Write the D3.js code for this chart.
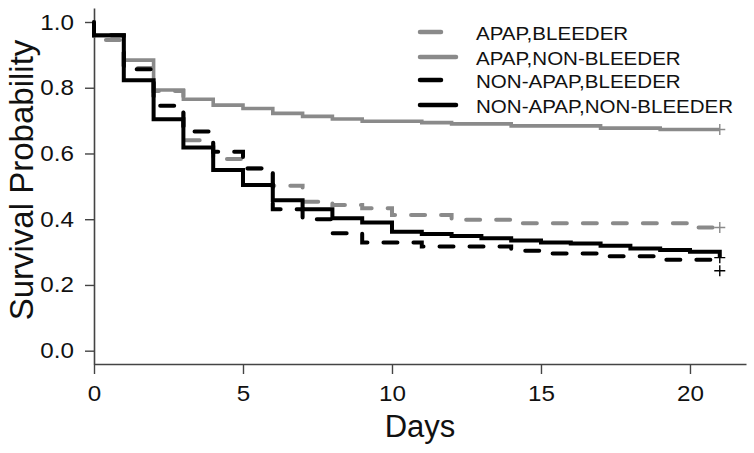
<!DOCTYPE html>
<html>
<head>
<meta charset="utf-8">
<script src="https://cdn.jsdelivr.net/npm/d3@7/dist/d3.min.js"></script>
<style>
  html, body { margin: 0; padding: 0; background: #fff; }
  svg { display: block; font-family: "Liberation Sans", Arial, sans-serif; }
</style>
</head>
<body>
<svg id="chart" width="754" height="453"></svg>
<script>
// ---- data ----
const seriesNames = ["APAP,BLEEDER", "APAP,NON-BLEEDER", "NON-APAP,BLEEDER", "NON-APAP,NON-BLEEDER"];

const daysApapBleeder = [0, 1, 2, 3, 4, 5, 6, 7, 8, 9, 10, 12, 14, 20, 21];
const survApapBleeder = [0.945, 0.86, 0.79, 0.64, 0.583, 0.555, 0.502, 0.453, 0.443, 0.433, 0.413, 0.398, 0.388, 0.375, 0.375];

const daysApapNonBleeder = [0, 1, 2, 3, 4, 5, 6, 7, 8, 9, 11, 12, 14, 17, 19, 21];
const survApapNonBleeder = [0.958, 0.884, 0.793, 0.765, 0.747, 0.737, 0.722, 0.713, 0.705, 0.698, 0.694, 0.69, 0.684, 0.677, 0.673, 0.673];

const daysNonApapBleeder = [0, 1, 2, 3, 4, 5, 6, 7, 8, 9, 11, 14, 15, 17, 19, 21];
const survNonApapBleeder = [0.96, 0.856, 0.745, 0.667, 0.605, 0.554, 0.43, 0.40, 0.357, 0.329, 0.317, 0.304, 0.296, 0.287, 0.277, 0.277];

const daysNonApapNonBleeder = [0, 1, 2, 3, 4, 5, 6, 7, 8, 9, 10, 11, 12, 13, 14, 15, 16, 17, 18, 19, 20, 21];
const survNonApapNonBleeder = [0.96, 0.823, 0.704, 0.618, 0.55, 0.504, 0.458, 0.43, 0.403, 0.39, 0.362, 0.355, 0.349, 0.342, 0.335, 0.329, 0.326, 0.319, 0.311, 0.306, 0.301, 0.283];

// censoring marks (day, survival) per series
const censorApapBleeder = [[21, 0.375]];
const censorApapNonBleeder = [[21, 0.673]];
const censorNonApapBleeder = [[21, 0.243]];
const censorNonApapNonBleeder = [[21, 0.283]];

const xTicks = [0, 5, 10, 15, 20];
const yTicks = [0.0, 0.2, 0.4, 0.6, 0.8, 1.0];
const xLabel = "Days";
const yLabel = "Survival Probability";

// ---- styles ----
const styles = [
  { color: "#8a8a8a", dash: "14,16", width: 4 },
  { color: "#8a8a8a", dash: null, width: 3.6 },
  { color: "#000000", dash: "14,16", width: 4 },
  { color: "#000000", dash: null, width: 4 }
];

const series = [
  { name: seriesNames[0], days: daysApapBleeder, surv: survApapBleeder, censor: censorApapBleeder },
  { name: seriesNames[1], days: daysApapNonBleeder, surv: survApapNonBleeder, censor: censorApapNonBleeder },
  { name: seriesNames[2], days: daysNonApapBleeder, surv: survNonApapBleeder, censor: censorNonApapBleeder },
  { name: seriesNames[3], days: daysNonApapNonBleeder, surv: survNonApapNonBleeder, censor: censorNonApapNonBleeder }
];

function stretch(sel, f) {
  sel.each(function () {
    const w = this.getComputedTextLength();
    d3.select(this).attr("textLength", w * f).attr("lengthAdjust", "spacingAndGlyphs");
  });
}

const svg = d3.select("#chart");
const x = d3.scaleLinear().domain([0, 21.88]).range([94, 746]);
const y = d3.scaleLinear().domain([-0.0405, 1.0426]).range([364, 8]);

// axes
const axisColor = "#444";
const yAxis = svg.append("g").attr("transform", `translate(${x(0)},0)`)
  .call(d3.axisLeft(y).tickValues(yTicks).tickFormat(d3.format(".1f")).tickSize(9).tickSizeOuter(0).tickPadding(11));
const xAxis = svg.append("g").attr("transform", `translate(0,${y.range()[0]})`)
  .call(d3.axisBottom(x).tickValues(xTicks).tickFormat(d3.format("d")).tickSize(10).tickSizeOuter(0).tickPadding(11));
[xAxis, yAxis].forEach(g => {
  g.select(".domain").attr("stroke", axisColor).attr("stroke-width", 1.6);
  g.selectAll(".tick line").attr("stroke", axisColor).attr("stroke-width", 1.4);
  g.selectAll(".tick text").attr("fill", "#111").style("font-size", "22px").style("font-family", "'Liberation Sans', Arial, sans-serif");
  stretch(g.selectAll(".tick text"), 1.1);
});

// axis titles
svg.append("text").attr("x", (x.range()[0] + x.range()[1]) / 2).attr("y", 437)
  .attr("text-anchor", "middle").style("font-size", "31px").attr("fill", "#111").text(xLabel);
svg.append("text").attr("transform", `translate(33,${180}) rotate(-90)`)
  .attr("text-anchor", "middle").style("font-size", "33px").attr("fill", "#111").text(yLabel);

// curves
const line = d3.line().x(d => x(d[0])).y(d => y(d[1])).curve(d3.curveStepAfter);
const plot = svg.append("g");
[1, 0, 3, 2].forEach(i => {
  const s = series[i], st = styles[i];
  const pts = [[0, 1.0]].concat(s.days.map((d, k) => [d, s.surv[k]]));
  plot.append("path").attr("d", line(pts))
    .attr("fill", "none").attr("stroke", st.color).attr("stroke-width", st.width)
    .attr("stroke-dasharray", st.dash).attr("stroke-linecap", st.dash ? "round" : "butt")
    .attr("stroke-linejoin", "miter");
});
// censor marks
series.forEach((s, i) => {
  s.censor.forEach(c => {
    const cx = x(c[0]), cy = y(c[1]);
    plot.append("path").attr("d", `M${cx - 5.5},${cy}H${cx + 5.5}M${cx},${cy - 5.5}V${cy + 5.5}`)
      .attr("stroke", styles[i].color).attr("stroke-width", 1.4).attr("fill", "none");
  });
});

// legend
const legendY = [32, 57, 80, 105];
const legend = svg.append("g");
series.forEach((s, i) => {
  const st = styles[i];
  const len = st.dash ? 21 : 36;
  legend.append("line").attr("x1", 420).attr("x2", 420 + len)
    .attr("y1", legendY[i]).attr("y2", legendY[i])
    .attr("stroke", st.color).attr("stroke-width", 4.5).attr("stroke-linecap", "round");
  const t = legend.append("text").attr("x", 476).attr("y", legendY[i] + 7.5)
    .style("font-size", "18.5px").attr("fill", "#111").text(s.name);
  stretch(t, 1.11);
});
</script>
</body>
</html>
